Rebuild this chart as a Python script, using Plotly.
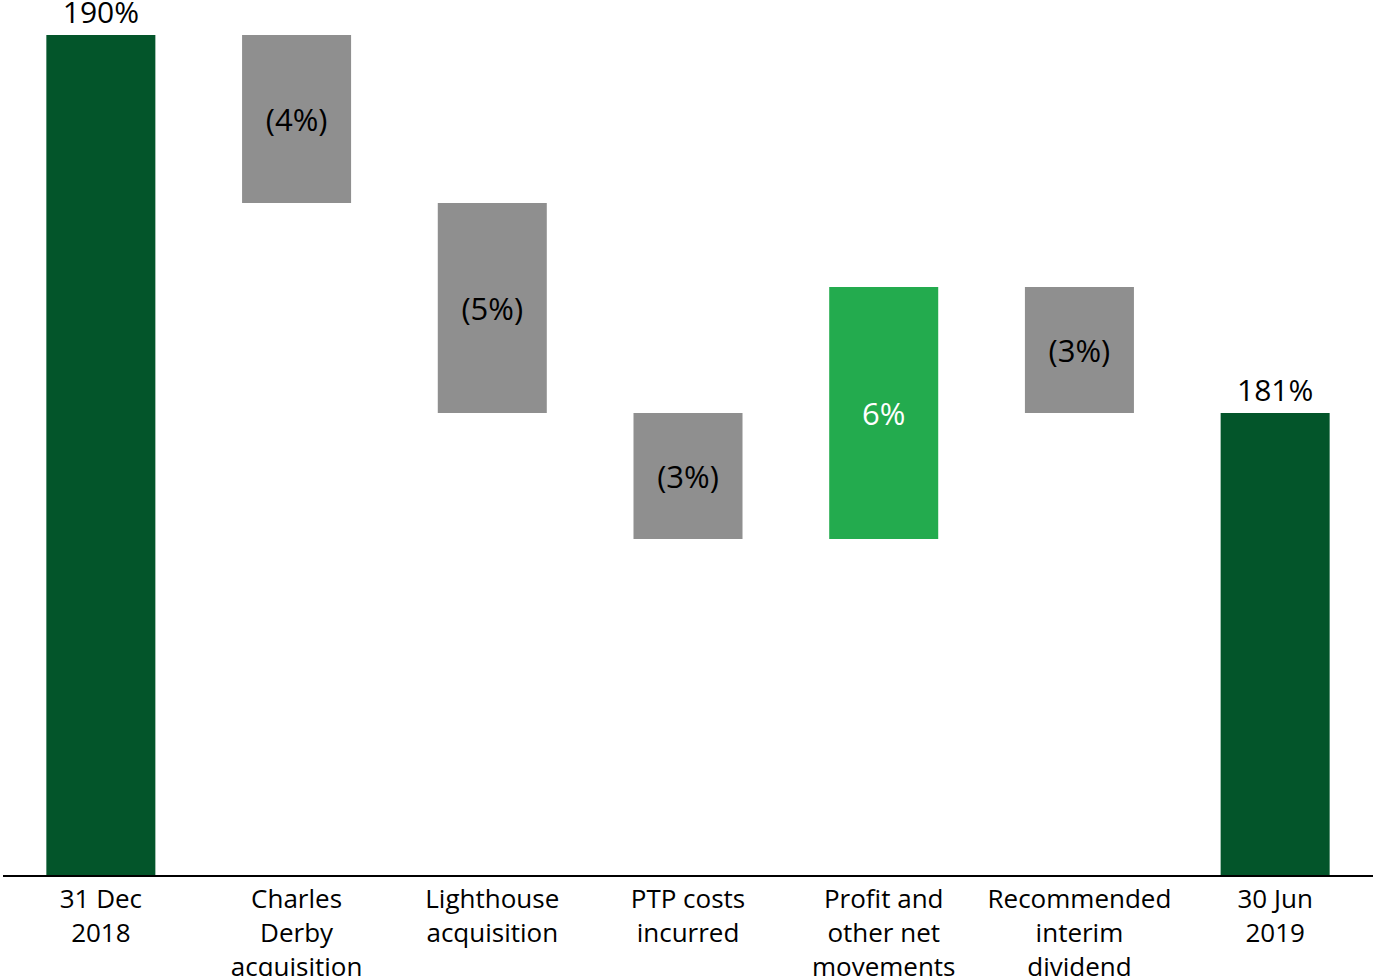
import plotly.graph_objects as go

categories = ["31 Dec<br>2018", "Charles<br>Derby<br>acquisition", "Lighthouse<br>acquisition",
              "PTP costs<br>incurred", "Profit and<br>other net<br>movements",
              "Recommended<br>interim<br>dividend", "30 Jun<br>2019"]
values = [190, -4, -5, -3, 6, -3, 181]
measures = ["absolute", "relative", "relative", "relative", "relative", "relative", "total"]
labels = ["190%", "(4%)", "(5%)", "(3%)", "6%", "(3%)", "181%"]

DARK = "#03552A"
GREY = "#8F8F8F"
LIGHT = "#23AB4E"

text_pos = ["outside" if m != "relative" else "inside" for m in measures]
inside_colors = ["white" if (m == "relative" and v > 0) else "black" for m, v in zip(measures, values)]

fig = go.Figure(go.Waterfall(
    x=categories,
    y=values,
    measure=measures,
    text=labels,
    textinfo="text",
    textposition=text_pos,
    insidetextanchor="middle",
    insidetextfont=dict(family="Open Sans", size=31, color=inside_colors),
    outsidetextfont=dict(family="Open Sans", size=30, color="black"),
    cliponaxis=False,
    connector=dict(visible=False),
    increasing=dict(marker=dict(color=LIGHT)),
    decreasing=dict(marker=dict(color=GREY)),
    totals=dict(marker=dict(color=DARK)),
))

fig.update_layout(
    width=1373, height=976,
    margin=dict(l=3, r=0, t=35, b=101, autoexpand=False),
    plot_bgcolor="white", paper_bgcolor="white",
    showlegend=False,
    waterfallgap=0.443,
    font=dict(family="Open Sans", size=26, color="black"),
)
fig.update_xaxes(showline=True, linecolor="black", linewidth=2, ticks="", automargin=False,
                 tickfont=dict(family="Open Sans", size=26, color="black"))
fig.update_yaxes(range=[170, 190], visible=False, showgrid=False, zeroline=False, automargin=False)

fig.write_html("out.html", config={"displayModeBar": False},
               post_script="document.body.style.margin='0';")
